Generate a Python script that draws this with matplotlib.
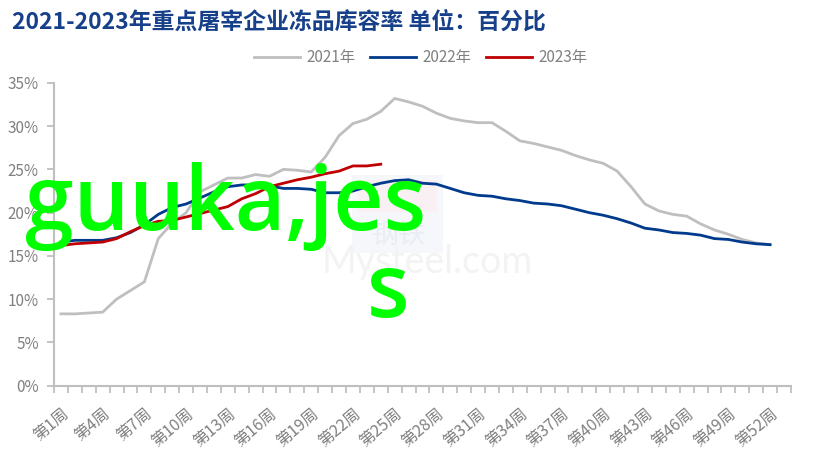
import matplotlib.pyplot as plt
import matplotlib.transforms as mtransforms
import numpy as np

plt.rcParams['font.family'] = ['Noto Sans CJK SC', 'DejaVu Sans']

# --- data (weekly cold-storage rate, %) ---
weeks = np.arange(1, 54)
week_labels = [f"第{w}周" for w in weeks]

rate_2021 = [8.3, 8.3, 8.4, 8.5, 10.0, 11.0, 12.0, 17.0, 18.8, 20.0,
             22.4, 23.2, 24.0, 24.0, 24.4, 24.2, 25.0, 24.9, 24.7, 26.4,
             28.9, 30.3, 30.8, 31.7, 33.2, 32.8, 32.3, 31.5, 30.9, 30.6,
             30.4, 30.4, 29.4, 28.3, 28.0, 27.6, 27.2, 26.6, 26.1, 25.7,
             24.8, 23.0, 21.0, 20.2, 19.8, 19.6, 18.7, 18.0, 17.5, 16.9,
             16.5, 16.3]
rate_2022 = [16.6, 16.8, 16.8, 16.8, 17.1, 17.7, 18.6, 19.8, 20.6, 21.0,
             21.7, 22.4, 23.0, 23.2, 23.2, 23.1, 22.8, 22.8, 22.7, 22.3,
             22.3, 22.5, 23.0, 23.4, 23.7, 23.8, 23.4, 23.3, 22.8, 22.3,
             22.0, 21.9, 21.6, 21.4, 21.1, 21.0, 20.8, 20.4, 20.0, 19.7,
             19.3, 18.8, 18.2, 18.0, 17.7, 17.6, 17.4, 17.0, 16.9, 16.6,
             16.4, 16.3]
rate_2023 = [16.2, 16.4, 16.5, 16.6, 17.0, 17.8, 18.5, 19.0, 19.1, 19.5,
             19.9, 20.3, 20.7, 21.6, 22.2, 23.0, 23.4, 23.8, 24.1, 24.5,
             24.8, 25.4, 25.4, 25.6]

axis_grey = '#BFBFBF'
text_grey = '#808080'

fig = plt.figure(figsize=(8.17, 4.63), dpi=100)
ax = fig.add_axes([0.0661, 0.167, 0.902, 0.654])

# faint Mysteel watermark, kept behind the plot
fig.patches.append(plt.Rectangle((352 / 817, 1 - 253 / 463), 91 / 817, 78 / 463,
                                 transform=fig.transFigure, facecolor='#F5F7FB',
                                 edgecolor='none', zorder=-2))
fig.patches.append(plt.Rectangle((358 / 817, 1 - 212 / 463), 79 / 817, 32 / 463,
                                 transform=fig.transFigure, facecolor='#F8F0F2',
                                 edgecolor='none', zorder=-2))
fig.text(398 / 817, 1 - 235 / 463, '钢铁', fontsize=20, color='#E9EDF4',
         ha='center', va='center', zorder=-1)
fig.text(427 / 817, 1 - 262 / 463, 'Mysteel.com', fontsize=27, color='#F3F3F3',
         ha='center', va='center', family='Lato', zorder=-1)

ax.plot(weeks[:len(rate_2021)], rate_2021, color='#BFBFBF', lw=2.0, label='2021年')
ax.plot(weeks[:len(rate_2022)], rate_2022, color='#003A8C', lw=2.0, label='2022年')
ax.plot(weeks[:len(rate_2023)], rate_2023, color='#C00000', lw=2.0, label='2023年')
ax.patch.set_alpha(0)

ax.set_xlim(0.5, 53.5)
ax.set_ylim(0, 35)
ax.set_yticks(np.arange(0, 36, 5))
ax.set_yticklabels([f"{v}%" for v in range(0, 36, 5)])

ax.set_xticks(weeks[::3])
ax.set_xticklabels(week_labels[::3], rotation=40, ha='right', rotation_mode='anchor')
offset = mtransforms.ScaledTranslation(-6 / 100, 0, fig.dpi_scale_trans)
for lbl in ax.get_xticklabels():
    lbl.set_transform(lbl.get_transform() + offset)
ax.set_xticks(np.arange(0.5, 54, 1), minor=True)
ax.tick_params(axis='x', which='major', length=0, pad=14, labelsize=11.5, labelcolor=text_grey)
ax.tick_params(axis='x', which='minor', length=5, width=1.3, color=axis_grey)
ax.tick_params(axis='y', length=5, width=1.3, color=axis_grey, labelsize=11,
               labelcolor=text_grey, pad=6)

for side in ['top', 'right']:
    ax.spines[side].set_visible(False)
for side in ['left', 'bottom']:
    ax.spines[side].set_color(axis_grey)
    ax.spines[side].set_linewidth(1.5)

fig.text(0.015, 0.952, '2021-2023年重点屠宰企业冻品库容率 单位：百分比',
         fontsize=16.5, fontweight='bold', color='#17408B', va='center')

fig.legend(loc='center', bbox_to_anchor=(0.515, 0.875), ncol=3, frameon=False,
           fontsize=11, labelcolor=text_grey, handlelength=3.0, columnspacing=1.0,
           handletextpad=0.4)

# overlaid green text
fig.text(0.030, 1 - 230 / 463, 'guuka,jes', fontsize=63, color='#00FF00',
         family='Open Sans', fontweight='semibold', va='baseline', ha='left', zorder=10)
fig.text(0.449, 1 - 317 / 463, 's', fontsize=63, color='#00FF00',
         family='Open Sans', fontweight='semibold', va='baseline', ha='left', zorder=10)

fig.savefig('out.png', dpi=100)
